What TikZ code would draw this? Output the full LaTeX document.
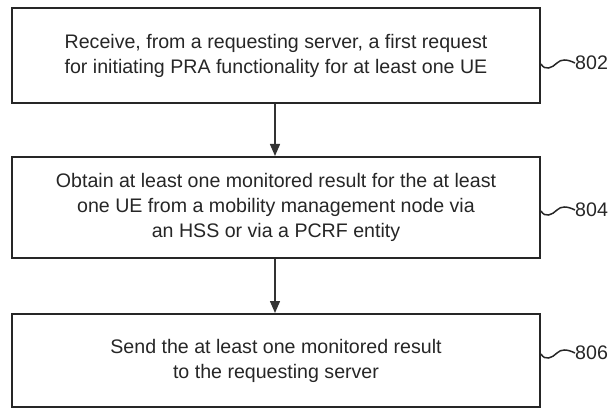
\documentclass[tikz,border=0pt]{standalone}
\usepackage{fontspec}
\setmainfont{Liberation Sans}
\usetikzlibrary{arrows.meta}
\begin{document}
\begin{tikzpicture}[x=1pt,y=-1pt,
  stepbox/.style={draw=black!85, line width=2pt, rectangle, minimum width=528pt, align=center, inner sep=0pt,
    font=\fontsize{19.6}{25}\selectfont, text=black!85},
  flow/.style={draw=black!80, line width=1.4pt, -{Triangle[length=12pt,width=10pt]}},
  wave/.style={draw=black!85, line width=1.5pt},
  reflabel/.style={font=\fontsize{19.6}{22}\selectfont, text=black!85, anchor=west, inner sep=0pt}]
\useasboundingbox (0,0) rectangle (616,409);
\node[stepbox, minimum height=95pt] (b1) at (276,55.5)
  {Receive, from a requesting server, a first request\\for initiating PRA functionality for at least one UE};
\node[stepbox, minimum height=101pt] (b2) at (276,207.5)
  {Obtain at least one monitored result for the at least\\one UE from a mobility management node via\\an HSS or via a PCRF entity};
\node[stepbox, minimum height=93pt] (b3) at (276,360.5)
  {Send the at least one monitored result\\to the requesting server};
\draw[flow] (b1.south -| 275,0) -- (b2.north -| 275,0);
\draw[flow] (b2.south -| 275,0) -- (b3.north -| 275,0);
\foreach \n/\L/\t in {1/63/802,2/210/804,3/353/806}{
  \node[reflabel] (l\n) at (575,\L) {\t};
  \coordinate (w\n) at (541,\L+1);
  \draw[wave] (w\n) .. controls (545,\L+8) and (552,\L+5) .. (557,\L) .. controls (561,\L-4) and (567,\L-4) .. (l\n.west);
}
\end{tikzpicture}
\end{document}
